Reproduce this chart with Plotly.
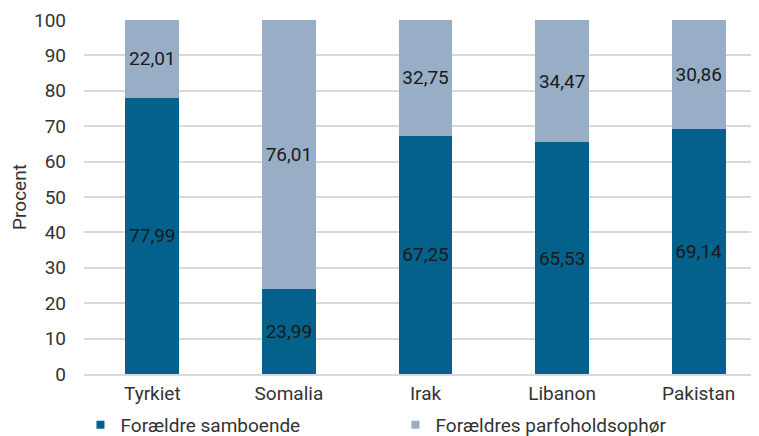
import plotly.graph_objects as go

categories = ["Tyrkiet", "Somalia", "Irak", "Libanon", "Pakistan"]
samboende = [77.99, 23.99, 67.25, 65.53, 69.14]
ophoer = [22.01, 76.01, 32.75, 34.47, 30.86]
series_names = ["Forældre samboende", "Forældres parfoholdsophør"]
y_ticks = [0, 10, 20, 30, 40, 50, 60, 70, 80, 90, 100]

def fmt(v):
    return f"{v:.2f}".replace(".", ",")

FONT = "Roboto"
TXT = "#333333"
fig = go.Figure()
for i, (name, vals, col) in enumerate([(series_names[0], samboende, "#03618B"),
                                       (series_names[1], ophoer, "#98AEC6")]):
    fig.add_trace(go.Bar(
        x=categories, y=vals, name=name, legendgroup=f"g{i}", showlegend=False,
        marker=dict(color=col, line=dict(width=0)),
        text=[fmt(v) for v in vals], textposition="inside",
        insidetextanchor="middle", textangle=0,
        textfont=dict(family=FONT, size=19, color="#1a1a1a"),
        width=0.395, hoverinfo="skip",
    ))
    # legend entry with a small square key
    fig.add_trace(go.Scatter(
        x=[None], y=[None], mode="markers", name=name, legendgroup=f"g{i}",
        marker=dict(symbol="square", size=8, color=col), hoverinfo="skip",
    ))

fig.update_layout(
    barmode="stack",
    width=759, height=436,
    margin=dict(l=76, r=0, t=12, b=70),
    paper_bgcolor="white", plot_bgcolor="white",
    font=dict(family=FONT, size=19, color=TXT),
    showlegend=True,
    legend=dict(orientation="h", xref="container", yref="container",
                x=0.0955, y=0.0, xanchor="left", yanchor="bottom",
                entrywidth=270, entrywidthmode="pixels",
                font=dict(family=FONT, size=19, color=TXT),
                itemclick=False, itemdoubleclick=False, traceorder="normal"),
    xaxis=dict(range=[-0.5, 4.5], showgrid=False, showline=True,
               linecolor="#d9d9d9", linewidth=2, ticks="", ticklabelstandoff=1,
               tickfont=dict(size=19, color=TXT)),
    yaxis=dict(range=[0, 100], tickvals=y_ticks, showgrid=True,
               gridcolor="#d9d9d9", gridwidth=1.5, zeroline=False,
               ticks="", ticklabelstandoff=17,
               tickfont=dict(size=19, color=TXT),
               title=dict(text="Procent", font=dict(size=19, color=TXT), standoff=9)),
)

fig.write_html("out.html")
